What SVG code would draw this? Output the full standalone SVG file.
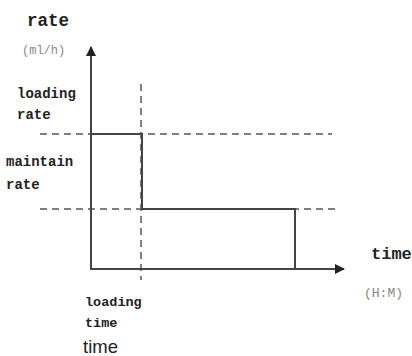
<svg xmlns="http://www.w3.org/2000/svg" width="412" height="356" viewBox="0 0 412 356">
<style>
.lbl{font-family:"Liberation Mono",monospace;font-weight:bold;fill:#222;}
.unit{font-family:"Liberation Mono",monospace;fill:#888;}
.solid{stroke:#444;stroke-width:2;fill:none;}
.dash{stroke:#555;stroke-width:1.5;fill:none;stroke-dasharray:7,5;}
</style>
<defs>
<marker id="arr" viewBox="0 0 10 10" refX="9" refY="5" markerWidth="10" markerHeight="10" markerUnits="userSpaceOnUse" orient="auto">
<path d="M0,0 L10,5 L0,10 Z" fill="#222"/>
</marker>
</defs>
<rect width="412" height="356" fill="#fff"/>
<g id="connectors">
<line class="dash" x1="40" y1="134" x2="332" y2="134"/>
<line class="dash" x1="40" y1="209" x2="335" y2="209"/>
<line class="dash" x1="141" y1="84" x2="141" y2="280"/>
<line class="solid" x1="91" y1="270" x2="91" y2="47" marker-end="url(#arr)"/>
<line class="solid" x1="90" y1="269" x2="344" y2="269" marker-end="url(#arr)"/>
<polyline class="solid" points="91,134 142,134 142,209 295,209 295,269"/>
</g>
<g id="y-label">
<text class="lbl" x="27" y="26" font-size="17.5">rate</text>
<text class="unit" x="22" y="54" font-size="12">(ml/h)</text>
</g>
<g id="loading-rate">
<text class="lbl" x="17" y="98" font-size="14">loading</text>
<text class="lbl" x="17" y="119" font-size="14">rate</text>
</g>
<g id="maintain-rate">
<text class="lbl" x="6" y="166" font-size="14">maintain</text>
<text class="lbl" x="6" y="189" font-size="14">rate</text>
</g>
<g id="x-label">
<text class="lbl" x="371" y="259" font-size="17">time</text>
<text class="unit" x="364" y="297" font-size="13">(H:M)</text>
</g>
<g id="loading-time">
<text class="lbl" x="85" y="306" font-size="13.5">loading</text>
<text class="lbl" x="85" y="327" font-size="13.5">time</text>
<text x="83" y="353" font-size="18.5" font-family="Liberation Sans, sans-serif" fill="#222">time</text>
</g>
</svg>
